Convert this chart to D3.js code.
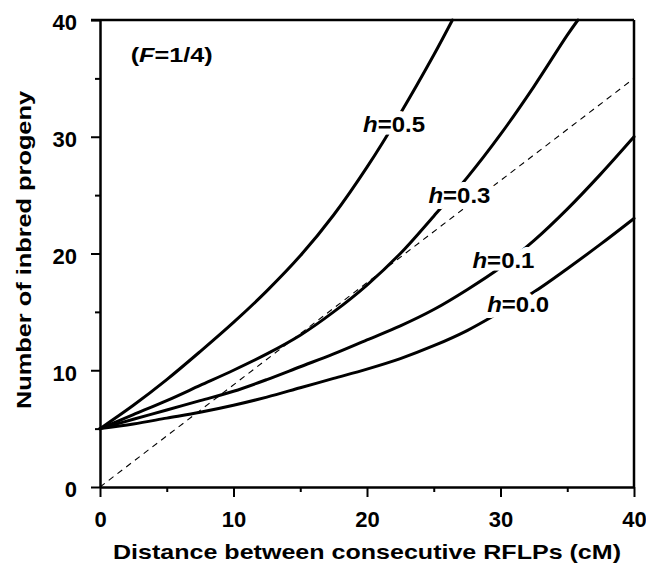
<!DOCTYPE html>
<html>
<head>
<meta charset="utf-8">
<script src="https://cdn.jsdelivr.net/npm/d3@7"></script>
<style>
  html, body { margin: 0; padding: 0; background: #fff; }
  svg { display: block; }
  text { font-family: "Liberation Sans", Arial, Helvetica, sans-serif; font-weight: bold; fill: #000; }
</style>
</head>
<body>
<svg id="chart" width="646" height="569"></svg>
<script>
// ---- data ----
const xTicks = [0, 10, 20, 30, 40];
const yTicks = [0, 10, 20, 30, 40];
const minorTicks = [5, 15, 25, 35];

const h05X = [0, 2.5, 5, 7.5, 10, 12.5, 15, 17.5, 20, 22.5, 25, 26.4];
const h05Y = [5, 7.0, 9.2, 11.6, 14.1, 16.8, 19.8, 23.3, 27.4, 32.0, 37.0, 40];

const h03X = [0, 2.5, 5, 7.5, 10, 12.5, 15, 17.5, 20, 22.5, 25, 27.5, 30, 32.5, 35, 35.8];
const h03Y = [5, 6.2, 7.4, 8.7, 10.0, 11.4, 13.0, 15.0, 17.3, 20.0, 23.2, 26.5, 30.2, 34.3, 38.7, 40];

const h01X = [0, 2.5, 5, 7.5, 10, 12.5, 15, 17.5, 20, 22.5, 25, 27.5, 30, 32.5, 35, 37.5, 40];
const h01Y = [5, 5.8, 6.6, 7.4, 8.2, 9.2, 10.3, 11.4, 12.6, 13.8, 15.2, 16.9, 18.8, 21.1, 23.8, 26.8, 30.0];

const h00X = [0, 2.5, 5, 7.5, 10, 12.5, 15, 17.5, 20, 22.5, 25, 27.5, 30, 32.5, 35, 37.5, 40];
const h00Y = [5, 5.4, 5.9, 6.4, 7.0, 7.7, 8.5, 9.3, 10.1, 11.0, 12.1, 13.4, 15.0, 16.7, 18.7, 20.8, 23.0];

const refX = [0, 40];
const refY = [0, 35];

const seriesNames = ["0.5", "0.3", "0.1", "0.0"];
const labelX = [19.7, 24.6, 27.9, 29.0];
const labelY = [30.4, 24.3, 18.8, 15.0];

// ---- layout ----
const svg = d3.select("#chart");
const x = d3.scaleLinear().domain([0, 40]).range([100, 634]);
const y = d3.scaleLinear().domain([0, 40]).range([487, 20]);

// frame (top and right)
svg.append("line").attr("x1", 91).attr("x2", 634).attr("y1", y(40)).attr("y2", y(40))
  .attr("stroke", "#000").attr("stroke-width", 2.5);
svg.append("line").attr("x1", x(40)).attr("x2", x(40)).attr("y1", y(40)).attr("y2", y(0))
  .attr("stroke", "#000").attr("stroke-width", 2.5);

// minor ticks
const gMinX = svg.append("g").attr("transform", `translate(0,${y(0)})`)
  .call(d3.axisBottom(x).tickValues(minorTicks).tickSize(5).tickFormat(""));
const gMinY = svg.append("g").attr("transform", `translate(${x(0)},0)`)
  .call(d3.axisLeft(y).tickValues(minorTicks).tickSize(5).tickFormat(""));

// major axes
const gx = svg.append("g").attr("transform", `translate(0,${y(0)})`)
  .call(d3.axisBottom(x).tickValues(xTicks).tickSize(10).tickSizeOuter(0).tickPadding(14).tickFormat(d3.format("d")));
const gy = svg.append("g").attr("transform", `translate(${x(0)},0)`)
  .call(d3.axisLeft(y).tickValues(yTicks).tickSize(9).tickSizeOuter(0).tickPadding(14).tickFormat(d3.format("d")));

[gMinX, gMinY, gx, gy].forEach(g => {
  g.selectAll("path.domain").attr("stroke", "#000").attr("stroke-width", 2.5);
  g.selectAll(".tick line").attr("stroke", "#000").attr("stroke-width", 2);
});
[gMinX, gMinY].forEach(g => g.select("path.domain").remove());
gx.selectAll(".tick text").style("font-size", "22px").attr("dy", "0.71em").attr("y", 24);
gy.selectAll(".tick text").style("font-size", "22px").attr("x", -23).attr("dy", "0.45em");

// reference dashed line
const line = d3.line().x(d => x(d[0])).y(d => y(d[1]));
svg.append("path")
  .attr("d", line(d3.zip(refX, refY)))
  .attr("fill", "none").attr("stroke", "#000").attr("stroke-width", 1.1)
  .attr("stroke-dasharray", "6,5");

// curves
const curveLine = d3.line().x(d => x(d[0])).y(d => y(d[1])).curve(d3.curveCatmullRom.alpha(0.5));
const curves = [[h05X, h05Y], [h03X, h03Y], [h01X, h01Y], [h00X, h00Y]];
curves.forEach(([xs, ys]) => {
  svg.append("path")
    .attr("d", curveLine(d3.zip(xs, ys)))
    .attr("fill", "none").attr("stroke", "#000").attr("stroke-width", 3)
    .attr("stroke-linejoin", "round").attr("stroke-linecap", "round");
});

// curve labels: white halo layer first, then black text on top
function addLabel(name, i, halo) {
  const t = svg.append("text")
    .attr("x", x(labelX[i])).attr("y", y(labelY[i]))
    .style("font-size", "22px")
    .attr("textLength", 62).attr("lengthAdjust", "spacingAndGlyphs");
  if (halo) {
    t.style("fill", "#fff").attr("stroke", "#fff").attr("stroke-width", 12).attr("stroke-linejoin", "round");
  }
  t.append("tspan").style("font-style", "italic").text("h");
  t.append("tspan").text("=" + name);
}
seriesNames.forEach((name, i) => addLabel(name, i, true));
seriesNames.forEach((name, i) => addLabel(name, i, false));

// (F=1/4)
const ft = svg.append("text")
  .attr("x", x(2.3)).attr("y", 62)
  .style("font-size", "21px")
  .attr("textLength", 82).attr("lengthAdjust", "spacingAndGlyphs");
ft.append("tspan").text("(");
ft.append("tspan").style("font-style", "italic").text("F");
ft.append("tspan").text("=1/4)");

// axis titles
svg.append("text")
  .attr("x", 113).attr("y", 559)
  .style("font-size", "21px")
  .attr("textLength", 508).attr("lengthAdjust", "spacingAndGlyphs")
  .text("Distance between consecutive RFLPs (cM)");

svg.append("text")
  .attr("transform", "translate(31,409) rotate(-90)")
  .attr("x", 0).attr("y", 0)
  .style("font-size", "20px")
  .attr("textLength", 318).attr("lengthAdjust", "spacingAndGlyphs")
  .text("Number of inbred progeny");
</script>
</body>
</html>
